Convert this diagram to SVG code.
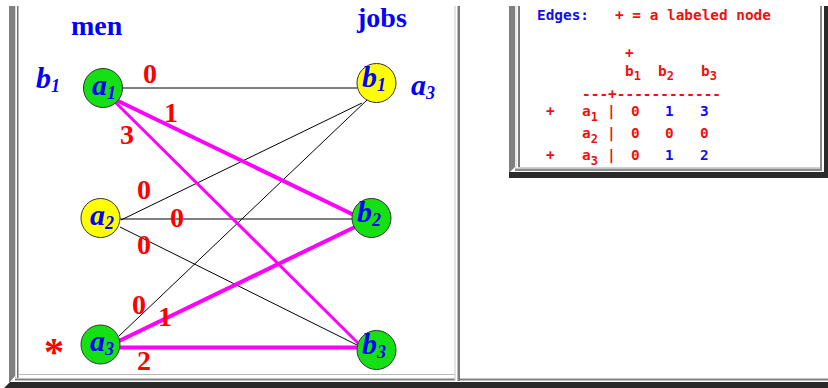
<svg xmlns="http://www.w3.org/2000/svg" width="828" height="388" viewBox="0 0 828 388">
<style>
.thin{stroke:#000;stroke-width:1;fill:none}
.mag{stroke:#ff00ff;fill:none;stroke-width:4}
.mag3{stroke:#ff00ff;fill:none;stroke-width:3}
.nd{stroke:#333;stroke-width:1}
.g{fill:#14e014}
.y{fill:#ffff00}
.nl{font-family:"Liberation Serif",serif;font-weight:bold;font-style:italic;font-size:30px;fill:#0000ff}
.sub{font-size:18px}
.el{font-family:"Liberation Serif",serif;font-weight:bold;font-size:28px;fill:#ff0000}
.star{font-size:40px}
.hd{font-family:"Liberation Serif",serif;font-weight:bold;font-size:28px;fill:#0000ff}
.mono{font-family:"DejaVu Sans Mono","Liberation Mono",monospace;font-weight:bold;font-size:14.4px}
.r{fill:#ee1111}
.b{fill:#1010ee}
.ms{font-size:12px}
</style>
<rect width="828" height="388" fill="#fff"/>
<g id="frame">
<polygon points="9,6 15,6 15,376 10,382 9,382" fill="#808080"/>
<rect x="15" y="6" width="1" height="372" fill="#d8d8d8"/>
<rect x="17" y="6" width="1.5" height="372" fill="#707070"/>
<rect x="18" y="374" width="437" height="1" fill="#b8b8b8"/>
<rect x="15" y="378.5" width="440" height="2" fill="#808080"/>
<rect x="454.5" y="6" width="1" height="375" fill="#c8c8c8"/>
<rect x="457.5" y="6" width="2.5" height="375" fill="#7a7a7a"/>
<rect x="458" y="378.5" width="370" height="2" fill="#808080"/>
<polygon points="10,382 828,382 828,388 4,388" fill="#2a2a2a"/>
<polygon points="509,6 515,6 515,167 510,172 509,172" fill="#808080"/>
<rect x="515.5" y="6" width="1" height="162" fill="#d0d0d0"/>
<rect x="518" y="6" width="2" height="162" fill="#7a7a7a"/>
<rect x="518" y="167" width="304" height="1" fill="#d0d0d0"/>
<rect x="515" y="168.5" width="307" height="2.5" fill="#8a8a8a"/>
<rect x="820" y="6" width="2" height="165" fill="#8a8a8a"/>
<polygon points="824,6 828,6 828,178 509,178 509,172 824,172" fill="#2a2a2a"/>
</g>
<g id="headers">
<text class="hd" x="71" y="35">men</text>
<text class="hd" x="357" y="27">jobs</text>
<text class="nl" x="36" y="88">b<tspan class="sub" dy="4">1</tspan></text>
<text class="nl" x="411" y="95">a<tspan class="sub" dy="4">3</tspan></text>
<text class="el star" x="44" y="365">*</text>
</g>
<g id="connectors">
<line class="thin" x1="123" y1="88" x2="357" y2="88"/>
<line class="thin" x1="121" y1="220" x2="362" y2="103"/>
<line class="thin" x1="120" y1="219" x2="352" y2="219"/>
<line class="thin" x1="120" y1="227" x2="359" y2="346"/>
<line class="thin" x1="119" y1="336" x2="367" y2="100"/>
<line class="mag" x1="116" y1="100" x2="354" y2="215"/>
<line class="mag3" x1="114" y1="101" x2="361" y2="346"/>
<line class="mag" x1="119" y1="341" x2="357" y2="226"/>
<line class="mag" x1="120" y1="347.5" x2="360" y2="347.5"/>
</g>
<g id="edge-labels">
<text class="el" x="143" y="83">0</text>
<text class="el" x="164" y="122">1</text>
<text class="el" x="120" y="144">3</text>
<text class="el" x="137" y="199">0</text>
<text class="el" x="170" y="227">0</text>
<text class="el" x="137" y="254">0</text>
<text class="el" x="132" y="314">0</text>
<text class="el" x="158" y="326">1</text>
<text class="el" x="137" y="370">2</text>
</g>
<g id="a1"><circle class="nd g" cx="103" cy="88" r="19.5"/><text class="nl" x="92" y="95">a<tspan class="sub" dy="4">1</tspan></text></g>
<g id="a2"><circle class="nd y" cx="100.5" cy="218" r="19.5"/><text class="nl" x="90" y="225">a<tspan class="sub" dy="4">2</tspan></text></g>
<g id="a3"><circle class="nd g" cx="100.5" cy="344.5" r="19.5"/><text class="nl" x="90" y="351">a<tspan class="sub" dy="4">3</tspan></text></g>
<g id="b1"><circle class="nd y" cx="376.5" cy="83" r="19.5"/><text class="nl" x="362" y="87">b<tspan class="sub" dy="4">1</tspan></text></g>
<g id="b2"><circle class="nd g" cx="371.5" cy="218" r="19.5"/><text class="nl" x="357" y="222">b<tspan class="sub" dy="4">2</tspan></text></g>
<g id="b3"><circle class="nd g" cx="376.5" cy="350" r="19.5"/><text class="nl" x="362" y="354">b<tspan class="sub" dy="4">3</tspan></text></g>
<g id="table" class="mono">
<text class="b" x="537" y="20">Edges:</text>
<text class="r" x="615" y="20">+ = a labeled node</text>
<text class="r" x="625" y="58">+</text>
<text class="r" x="625" y="76">b<tspan class="ms" dy="4">1</tspan></text>
<text class="r" x="658" y="76">b<tspan class="ms" dy="4">2</tspan></text>
<text class="r" x="701" y="76">b<tspan class="ms" dy="4">3</tspan></text>
<text class="r" x="582" y="98.5" textLength="139">---+------------</text>
<text class="r" x="546" y="116">+</text>
<text class="r" x="582" y="116">a<tspan class="ms" dy="5">1</tspan></text>
<text class="r" x="607" y="116">|</text>
<text class="r" x="631" y="116">0</text>
<text class="b" x="665" y="116">1</text>
<text class="b" x="700" y="116">3</text>
<text class="r" x="582" y="138">a<tspan class="ms" dy="5">2</tspan></text>
<text class="r" x="607" y="138">|</text>
<text class="r" x="631" y="138">0</text>
<text class="r" x="665" y="138">0</text>
<text class="r" x="700" y="138">0</text>
<text class="r" x="546" y="160">+</text>
<text class="r" x="582" y="160">a<tspan class="ms" dy="5">3</tspan></text>
<text class="r" x="607" y="160">|</text>
<text class="r" x="631" y="160">0</text>
<text class="b" x="665" y="160">1</text>
<text class="b" x="700" y="160">2</text>
</g>
</svg>
